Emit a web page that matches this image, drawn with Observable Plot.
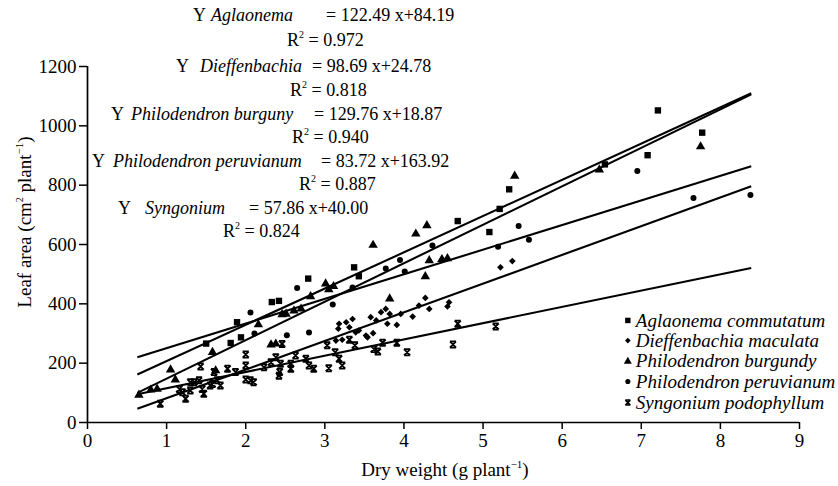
<!DOCTYPE html>
<html>
<head>
<meta charset="utf-8">
<script src="https://cdn.jsdelivr.net/npm/d3@7"></script>
<script src="https://cdn.jsdelivr.net/npm/@observablehq/plot@0.6"></script>
<style>
  html, body { margin: 0; padding: 0; background: #fff; }
  #chart svg { display: block; }
</style>
</head>
<body>
<div id="chart"></div>
<script>
// ---------------- DATA ----------------
const seriesNames = [
  "Aglaonema commutatum",
  "Dieffenbachia maculata",
  "Philodendron burgundy",
  "Philodendron peruvianum",
  "Syngonium podophyllum"
];

// [dry weight (g plant-1), leaf area (cm2 plant-1)]
const aglaonema = [
  [1.50,266],[1.81,268],[1.89,338],[1.94,287],[2.33,406],[2.42,410],[2.79,485],
  [3.37,523],[3.43,493],[4.68,679],[5.08,642],[5.21,720],[5.33,786],[6.54,870],
  [7.08,901],[7.21,1052],[7.77,977]
];
const dieffenbachia = [
  [3.14,276],[3.17,316],[3.18,333],[3.22,279],[3.27,338],[3.31,321],[3.35,349],
  [3.39,304],[3.43,310],[3.52,293],[3.54,287],[3.58,355],[3.61,301],[3.65,344],
  [3.71,372],[3.77,383],[3.79,333],[3.82,366],[3.91,329],[3.96,366],[4.11,357],
  [4.19,394],[4.27,420],[4.32,383],[4.55,391],[4.57,405],[5.22,523],[5.37,544]
];
const burgundy = [
  [0.65,93],[0.80,110],[0.88,113],[1.05,178],[1.11,144],[1.58,237],[1.62,175],
  [2.16,330],[2.32,262],[2.38,265],[2.46,364],[2.51,366],[2.61,377],[2.70,383],
  [2.82,425],[3.01,468],[3.05,448],[3.11,459],[3.61,598],[3.82,417],[4.15,636],
  [4.27,492],[4.29,664],[4.32,546],[4.48,550],[4.55,553],[5.40,831],[6.47,852],
  [7.75,930]
];
const peruvianum = [
  [2.06,371],[2.11,300],[2.52,294],[2.65,453],[2.80,303],[3.10,398],[3.35,455],
  [3.77,519],[3.95,548],[4.01,509],[4.36,597],[5.19,592],[5.45,662],[5.58,616],
  [6.95,848],[7.66,757],[8.38,767]
];
const syngonium = [
  [0.92,63],[1.16,113],[1.20,102],[1.24,80],[1.30,108],[1.30,136],[1.35,136],
  [1.41,142],[1.43,189],[1.45,113],[1.47,97],[1.55,125],[1.58,130],[1.60,170],
  [1.64,142],[1.68,125],[1.77,181],[1.87,170],[2.00,229],[2.00,192],[2.00,145],
  [2.06,142],[2.10,136],[2.23,186],[2.32,203],[2.38,220],[2.42,158],[2.43,170],
  [2.44,198],[2.46,265],[2.57,198],[2.57,181],[2.63,226],[2.76,215],[2.80,192],
  [2.86,181],[3.03,260],[3.05,183],[3.13,237],[3.18,215],[3.22,192],[3.31,279],
  [3.38,260],[3.62,248],[3.67,239],[3.73,269],[3.91,269],[4.04,237],[4.62,263],
  [4.68,333],[5.16,324]
];

// fitted lines as drawn (start / end of each line)
const lineX0 = [0.63, 0.63, 0.63, 0.63, 0.63];
const lineX1 = [8.39, 8.39, 8.39, 8.39, 8.39];
const lineY0 = [162, 46, 100, 220, 95];
const lineY1 = [1110, 796, 1106, 864, 521];

// equations printed above the plot
const eqGenus  = ["Aglaonema", "Dieffenbachia", "Philodendron burguny", "Philodendron peruvianum", "Syngonium"];
const eqRight  = ["= 122.49 x+84.19", "= 98.69 x+24.78", "= 129.76 x+18.87", "= 83.72 x+163.92", "= 57.86 x+40.00"];
const eqR2     = ["0.972", "0.818", "0.940", "0.887", "0.824"];

const xTicks = [0,1,2,3,4,5,6,7,8,9];
const yTicks = [0,200,400,600,800,1000,1200];

// ---------------- BUILD ----------------
const serif = "'Liberation Serif', 'Times New Roman', Times, serif";

const crossSymbol = {
  draw(ctx, size) {
    const s = Math.sqrt(size / Math.PI);
    ctx.moveTo(-s, -s); ctx.lineTo(s, s);
    ctx.moveTo(s, -s); ctx.lineTo(-s, s);
    ctx.moveTo(-s, -s); ctx.lineTo(s, -s);
    ctx.moveTo(-s, s); ctx.lineTo(s, s);
  }
};

const seriesPoints = [aglaonema, dieffenbachia, burgundy, peruvianum, syngonium];
const table = seriesPoints.map((pts, i) => pts.map(([x, y]) => ({series: seriesNames[i], x, y})));
const lines = seriesNames.map((s, i) => ({series: s, x0: lineX0[i], x1: lineX1[i], y0: lineY0[i], y1: lineY1[i]}));

const symbolFor = ["square", "diamond2", "triangle", "circle", crossSymbol];
const sizeFor = [3.6, 3.0, 3.5, 3.0, 3.1];

// legend layout (data units)
const legendX = 6.83;
const legendRows = [344, 276, 206, 138, 67];
const legendData = seriesNames.map((s, i) => ({series: s, i, x: legendX, y: legendRows[i]}));

const pointMarks = table.map((d, i) => i === 4
  ? Plot.dot(d, {x: "x", y: "y", symbol: crossSymbol, r: sizeFor[i], stroke: "black", fill: "none", strokeWidth: 1.8})
  : Plot.dot(d, {x: "x", y: "y", symbol: symbolFor[i], r: sizeFor[i], fill: "black", stroke: "none"}));

const legendMarks = legendData.map((d, i) => i === 4
  ? Plot.dot([d], {x: "x", y: "y", symbol: crossSymbol, r: 2.5, stroke: "black", fill: "none", strokeWidth: 1.5})
  : Plot.dot([d], {x: "x", y: "y", symbol: symbolFor[i], r: sizeFor[i] * 0.85, fill: "black", stroke: "none"}));

const plot = Plot.plot({
  width: 838,
  height: 486,
  marginLeft: 87,
  marginRight: 39,
  marginTop: 66,
  marginBottom: 64,
  style: {fontFamily: serif, fontSize: "19px", color: "black", background: "white", overflow: "visible"},
  x: {domain: [0, 9]},
  y: {domain: [0, 1200]},
  marks: [
    Plot.axisX({ticks: xTicks, tickSize: 7, tickPadding: 4, tickFormat: d => String(d), label: null, fontSize: 19, strokeWidth: 1.5}),
    Plot.axisY({ticks: yTicks, tickSize: 8, tickPadding: 3, tickFormat: d => String(d), label: null, fontSize: 19, strokeWidth: 1.5}),
    Plot.ruleX([0], {y1: 0, y2: 1200, strokeWidth: 1.7}),
    Plot.ruleY([0], {x1: 0, x2: 9, strokeWidth: 1.7}),
    Plot.link(lines, {x1: "x0", y1: "y0", x2: "x1", y2: "y1", stroke: "black", strokeWidth: 2.1}),
    ...pointMarks,
    ...legendMarks,
    Plot.text(legendData, {x: "x", y: "y", text: "series", dx: 8, textAnchor: "start", fontStyle: "italic", fontSize: 19, fill: "black"})
  ]
});

document.getElementById("chart").appendChild(plot);

// ---------------- ANNOTATIONS (text) ----------------
const svg = d3.select(plot);
const ann = svg.append("g")
  .attr("font-family", serif)
  .attr("font-size", 18)
  .attr("fill", "black")
  .attr("text-anchor", "start");

// layout for equation rows (pixels)
const eqLayout = [
  {yEq: 21,  xY: 193, xG: 211, xE: 326, yR: 46,  xR: 287},
  {yEq: 72,  xY: 176, xG: 200, xE: 312, yR: 96,  xR: 290},
  {yEq: 120, xY: 111, xG: 131, xE: 314, yR: 143, xR: 292},
  {yEq: 167, xY: 92,  xG: 113, xE: 321, yR: 190, xR: 299},
  {yEq: 214, xY: 118, xG: 145, xE: 249, yR: 237, xR: 223}
];

eqGenus.forEach((g, i) => {
  const L = eqLayout[i];
  const t = ann.append("text").attr("y", L.yEq);
  t.append("tspan").attr("x", L.xY).text("Y");
  t.append("tspan").attr("x", L.xG).attr("font-style", "italic").text(g);
  t.append("tspan").attr("x", L.xE).text(eqRight[i]);
  const r = ann.append("text").attr("x", L.xR).attr("y", L.yR);
  r.append("tspan").text("R");
  r.append("tspan").attr("font-size", 10).attr("dy", -8).text("2");
  r.append("tspan").attr("dy", 8).text(" = " + eqR2[i]);
});

// axis titles
const xl = ann.append("text").attr("x", 445).attr("y", 476).attr("text-anchor", "middle").attr("font-size", 19);
xl.append("tspan").text("Dry weight (g plant");
xl.append("tspan").attr("font-size", 11).attr("dy", -8).text("\u22121");
xl.append("tspan").attr("dy", 8).text(")");

const yl = ann.append("text").attr("transform", "translate(31,222) rotate(-90)").attr("text-anchor", "middle").attr("font-size", 19);
yl.append("tspan").text("Leaf area (cm");
yl.append("tspan").attr("font-size", 10).attr("dy", -8).text("2");
yl.append("tspan").attr("dy", 8).text(" plant");
yl.append("tspan").attr("font-size", 11).attr("dy", -8).text("\u22121");
yl.append("tspan").attr("dy", 8).text(")");
</script>
</body>
</html>
